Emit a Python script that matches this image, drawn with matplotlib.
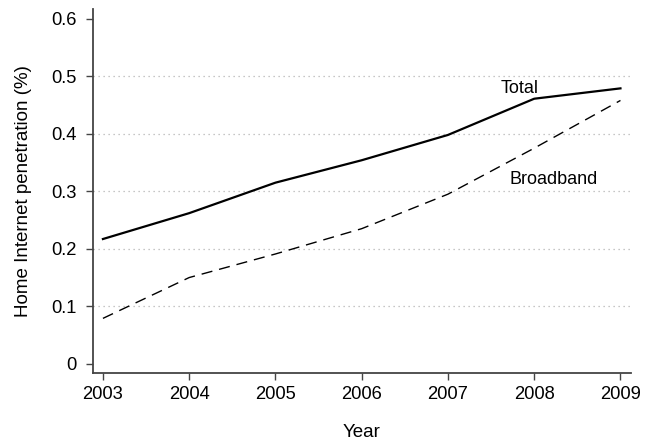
import matplotlib
matplotlib.use("Agg")
import matplotlib.pyplot as plt

years = [2003, 2004, 2005, 2006, 2007, 2008, 2009]
total = [0.217, 0.262, 0.315, 0.354, 0.398, 0.461, 0.479]
broadband = [0.079, 0.150, 0.191, 0.235, 0.295, 0.375, 0.458]
y_ticks = [0, 0.1, 0.2, 0.3, 0.4, 0.5, 0.6]
y_tick_labels = ["0", "0.1", "0.2", "0.3", "0.4", "0.5", "0.6"]

plt.rcParams["font.family"] = ["Liberation Sans", "DejaVu Sans"]

fig = plt.figure(figsize=(6.45, 4.42), dpi=100)
ax = fig.add_axes([0.1442, 0.1561, 0.8338, 0.8235])

for v in y_ticks[1:-1]:
    ax.axhline(v, color="#b4b4b4", linestyle=(0, (1, 3)), linewidth=0.9, zorder=1)

ax.plot(years, total, color="black", linewidth=1.6, zorder=3)
ax.plot(years, broadband, color="black", linewidth=1.0, linestyle=(0, (8, 5)), zorder=3)

ax.text(2007.83, 0.479, "Total", fontsize=13, ha="center", va="center")
ax.text(2008.23, 0.321, "Broadband", fontsize=13, ha="center", va="center")

ax.set_xlim(2002.885, 2009.12)
ax.set_ylim(-0.016, 0.617)
ax.set_xticks(years)
ax.set_xticklabels([str(y) for y in years])
ax.set_yticks(y_ticks)
ax.set_yticklabels(y_tick_labels)

for side in ("top", "right"):
    ax.spines[side].set_visible(False)
for side in ("left", "bottom"):
    ax.spines[side].set_color("#444444")
    ax.spines[side].set_linewidth(1.3)

ax.tick_params(axis="both", direction="out", length=5, width=1.0, color="#444444",
               labelsize=13.2)
ax.tick_params(axis="x", pad=4.5)
ax.tick_params(axis="y", pad=7)
ax.set_xlabel("Year", fontsize=13.5, labelpad=15)
ax.set_ylabel("Home Internet penetration (%)", fontsize=13.5, labelpad=14)

fig.savefig("out.png", dpi=100)
